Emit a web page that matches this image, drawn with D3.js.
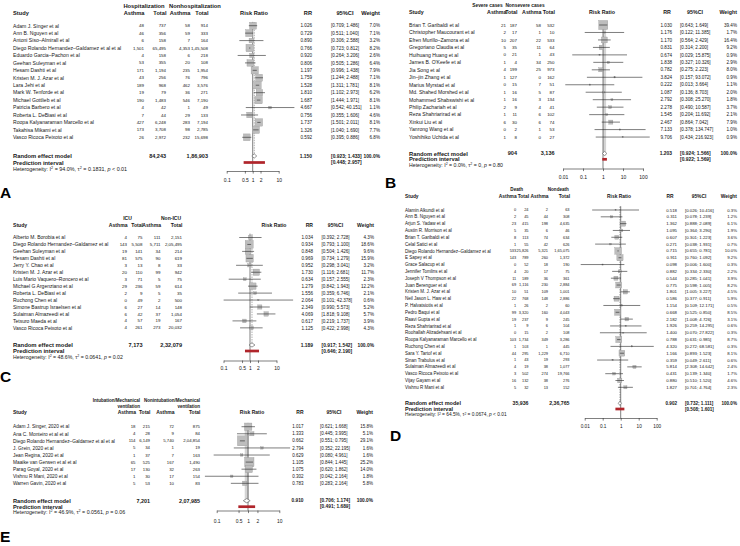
<!DOCTYPE html>
<html>
<head>
<meta charset="utf-8">
<script src="https://cdn.jsdelivr.net/npm/d3@7/dist/d3.min.js"></script>
<style>
html,body{margin:0;padding:0;background:#fff;}
svg{display:block;font-family:"Liberation Sans",Arial,Helvetica,sans-serif;}
</style>
</head>
<body>
<svg id="chart" width="740" height="546"></svg>
<script>
// ================= DATA =================
// ---- Panel A : Hospitalization ----
const studiesA = ["Adam J. Singer et al","Ann B. Nguyen et al","Antoni Siso–Almirall et al","Diego Rolando Hernandez–Galdamez et al et al","Eduardo Garcia–Pachon et al","Geehan Suleyman et al","Hesam Dashti  et al","Kristen M. J. Azar et al","Lara Jehi et al","Mark W. Tenforde et al","Michael Gottlieb  et al","Patricia Barbero  et al","Roberta L. DeBiasi  et al","Roopa Kalyanaraman Marcello et al","Takahisa Mikami et al","Vasco Ricoca Peixoto et al"];
const asthmaCaseA = ["48","46","6","1,501","4","53","171","43","189","19","190","4","7","427","173","26"];
const totalCaseA  = ["737","356","158","65,495","158","355","1,194","256","968","79","1,483","42","44","6,248","3,708","2,972"];
const asthmaCtrlA = ["58","59","7","4,353","6","20","235","76","462","36","546","1","29","283","98","232"];
const totalCtrlA  = ["914","333","164","1,45,508","218","108","1,954","796","3,576","271","7,190","49","133","7,194","2,785","15,698"];
const rrA    = [1.026,0.729,0.890,0.766,0.920,0.806,1.197,1.759,1.528,1.810,1.687,4.667,0.756,1.737,1.326,0.592];
const lowerA = [0.709,0.511,0.306,0.723,0.264,0.505,0.996,1.244,1.311,1.102,1.444,0.542,0.355,1.501,1.040,0.395];
const upperA = [1.486,1.040,2.588,0.812,3.206,1.286,1.438,2.488,1.781,2.973,1.971,40.151,1.606,2.011,1.690,0.886];
const weightA = [7.0,7.1,3.2,8.2,2.6,6.4,7.9,7.1,8.1,6.2,8.1,1.1,4.6,8.1,7.7,6.8];
const totalsA = ["84,243","1,86,903"];
const pooledA = [1.150,0.923,1.433];
const predictA = [0.448,2.957];
const hetA = ["94.0%","0.1831","<","0.01"];
const ticksA = [0.1,0.5,1,2,10];
const groupsA = [["Hospitalization"],["Nonhospitalization"]];

// ---- Panel B : Severe cases ----
const studiesB = ["Brian T. Garibaldi et al","Christopher Maucourant et al","Efren Murillo–Zamora et al","Gregoriano Claudia et al","Huihuang Huang  et al","James B. O'Keefe  et al","Jia Song et al","Jin–jin Zhang et al","Marius Myrstad et al","Md. Shahed Morshed et al","Mohammed Shabswishi et al","Philip Zachariah et al","Reza Shahriarirad et al","Xinkui Liu et al","Yanrong Wang et al","Yoshihiko Uchida  et al"];
const asthmaCaseB = ["21","2","10","5","0","1","4","1","0","1","1","2","1","6","0","1"];
const totalCaseB  = ["187","17","207","35","21","4","199","127","15","16","16","9","11","30","2","8"];
const asthmaCtrlB = ["58","1","22","11","1","34","25","0","7","5","3","4","6","6","1","0"];
const totalCtrlB  = ["532","10","533","64","43","250","973","162","51","87","134","41","102","74","53","27"];
const rrB    = [1.030,1.176,1.170,0.831,0.674,1.838,0.782,3.824,0.222,1.087,2.792,2.278,1.545,2.467,7.133,9.706];
const lowerB = [0.643,0.122,0.564,0.314,0.029,0.327,0.275,0.157,0.013,0.136,0.308,0.490,0.204,0.864,0.378,0.434];
const upperB = [1.649,11.385,2.429,2.200,15.875,10.326,2.223,93.072,3.664,8.703,25.270,10.587,11.692,7.042,134.747,216.923];
const weightB = [39.4,1.7,16.4,9.2,0.9,2.9,8.0,0.9,1.1,2.0,1.8,3.7,2.1,7.9,1.0,0.9];
const totalsB = ["904","3,136"];
const pooledB = [1.203,0.924,1.566];
const predictB = [0.922,1.569];
const hetB = ["0.0%","0","=","0.80"];
const ticksB = [0.01,0.1,1,10,100];
const groupsB = [["Severe cases"],["Nonsevere cases"]];

// ---- Panel C : ICU ----
const studiesC = ["Alberto M. Borobia et al","Diego Rolando Hernandez–Galdamez et al","Geehan Suleyman et al","Hesam Dashti  et al","Jerry Y. Chao et al","Kristen M. J. Azar et al","Luis Mario Vaquero–Roncero et al","Michael G Argenziano et al","Roberta L. DeBiasi  et al","Ruchong Chen et al","Simone Bastrup Israelsen et al","Sulaiman Almazeedi et al","Tetsuro Maeda  et al","Vasco Ricoca Peixoto et al"];
const asthmaCaseC = ["4","143","19","81","3","20","3","29","2","0","6","6","4","4"];
const totalCaseC  = ["75","5,508","141","575","13","110","71","236","9","49","27","42","57","261"];
const asthmaCtrlC = ["111","5,711","34","90","8","99","5","59","5","2","14","37","19","273"];
const totalCtrlC  = ["2,151","2,05,495","214","619","33","942","75","614","35","500","148","1,054","167","20,032"];
const rrC    = [1.034,0.934,0.848,0.969,0.952,1.730,0.634,1.279,1.556,2.064,2.349,4.069,0.617,1.125];
const lowerC = [0.392,0.793,0.504,0.734,0.298,1.116,0.157,0.842,0.359,0.101,0.990,1.818,0.219,0.422];
const upperC = [2.728,1.100,1.426,1.279,3.041,2.681,2.555,1.943,6.746,42.378,5.573,9.108,1.737,2.998];
const weightC = [4.3,18.6,9.6,15.9,3.2,11.7,2.3,12.2,2.1,0.6,5.2,5.7,3.9,4.3];
const totalsC = ["7,173","2,32,079"];
const pooledC = [1.189,0.917,1.542];
const predictC = [0.646,2.190];
const hetC = ["48.6%","0.0641","=","0.02"];
const ticksC = [0.1,0.5,1,2,10];
const groupsC = [["ICU"],["Non-ICU"]];

// ---- Panel D : Death ----
const studiesD = ["Alamin Alkundi et al","Ann B. Nguyen et al","Arjun S. Yadaw et al","Austin R. Morrison et al","Brian T. Garibaldi et al","Celal Satici et al","Diego Rolando Hernandez–Galdamez et al","E Sapey  et al","Grace Salacup et al","Jennifer Tomlins et al","Joseph V Thompson  et al","Juan Berenguer  et al","Kristen M. J. Azar et al","Neil Jason L. Haw et al","P. Halvatsiotis et al","Pedro Baqui  et al","Raavi Gupta et al","Reza Shahriarirad et al","Roohallah Alizadehsani et al","Roopa Kalyanaraman Marcello et al","Ruchong Chen et al","Sara Y. Tartof  et al","Sinan Trabulus et al","Sulaiman Almazeedi et al","Vasco Ricoca Peixoto et al","Vijay Gayam et al","Vishnu R Mani et al"];
const asthmaCaseD = ["0","2","23","5","8","1","533","143","0","4","11","69","10","22","1","99","19","1","0","103","1","44","1","4","3","16","5"];
const totalCaseD  = ["24","45","415","35","113","55","25,826","789","52","20","189","1,116","51","768","26","3,320","237","9","15","1,734","103","295","43","19","502","132","32"];
const asthmaCtrlD = ["2","44","198","6","74","42","5,321","260","18","17","36","230","109","148","2","160","9","6","2","349","1","1,229","19","38","274","38","13"];
const totalCtrlD  = ["63","308","4,635","46","634","626","1,65,075","1,372","190","75","361","2,884","1,001","2,886","60","4,043","245","104","108","3,286","445","6,710","293","1,077","19,766","276","152"];
const rrD    = [0.518,0.311,1.362,1.095,0.607,0.271,0.715,0.911,0.098,0.882,0.544,0.775,1.801,0.586,1.154,0.668,2.182,1.926,1.400,0.788,4.320,1.166,0.359,5.814,0.431,0.880,1.827];
const lowerD = [0.026,0.078,0.888,0.364,0.301,0.038,0.655,0.760,0.006,0.334,0.285,0.598,1.005,0.377,0.109,0.525,1.008,0.259,0.070,0.631,0.272,0.893,0.049,2.308,0.139,0.510,0.701];
const upperD = [10.416,1.239,2.089,3.290,1.223,1.931,0.781,1.092,1.600,2.330,1.041,1.005,3.227,0.911,12.171,0.850,4.726,14.295,27.822,0.985,68.581,1.523,2.611,14.642,1.340,1.520,4.764];
const weightD = [0.3,1.2,6.1,1.9,3.6,0.7,10.0,9.2,0.3,2.2,3.9,8.2,4.5,5.9,0.5,8.5,3.1,0.6,0.3,8.7,0.3,8.1,0.6,2.4,1.7,4.6,2.3];
const totalsD = ["35,936","2,36,765"];
const pooledD = [0.902,0.732,1.111];
const predictD = [0.508,1.601];
const hetD = ["64.5%","0.0674","<","0.01"];
const ticksD = [0.01,0.1,1,10,100];
const groupsD = [["Death"],["Nondeath"]];

// ---- Panel E : Intubation / mechanical ventilation ----
const studiesE = ["Adam J. Singer, 2020 et al","Ana C. Monteiro et al et al","Diego Rolando Hernandez–Galdamez et al et al","J. Grein, 2020 et al","Jean Regina, 2020 et al","Maaike van Gerwen et al et al","Parag Goyal, 2020 et al","Vishnu R Mani, 2020 et al","Warren Gavin, 2020 et al"];
const asthmaCaseE = ["18","4","114","5","1","65","17","1","5"];
const totalCaseE  = ["215","28","6,149","34","37","525","130","30","53"];
const asthmaCtrlE = ["72","9","5,740","1","7","167","32","17","10"];
const totalCtrlE  = ["875","84","2,04,854","19","163","1,490","263","154","83"];
const rrE    = [1.017,1.333,0.662,2.794,0.629,1.105,1.075,0.302,0.783];
const lowerE = [0.621,0.445,0.551,0.352,0.080,0.844,0.620,0.042,0.283];
const upperE = [1.668,3.995,0.795,22.195,4.961,1.445,1.862,2.164,2.164];
const weightE = [15.8,5.1,29.1,1.6,1.6,25.2,14.0,1.8,5.8];
const totalsE = ["7,201","2,07,985"];
const pooledE = [0.910,0.706,1.174];
const predictE = [0.491,1.689];
const hetE = ["46.9%","0.0561","=","0.06"];
const ticksE = [0.1,0.5,1,2,10];
const groupsE = [["Intubation/Mechanical","ventilation"],["Nonintubation/Mechanical","ventilation"]];

const colLabels = ["Asthma","Total","Asthma","Total"];

// ================= LAYOUT =================
const layout = {
  A:{letter:"A",lx:0,ly:192,xs:13,h:[6,13.3],row0:25.7,step:7.44,rand:156,pred:162.5,het:169,axis:171,tickLab:180,
     cols:[144,166,190,208],grp:[[144,"middle"],[195,"middle"]],x1:252.7,dec:26,rr:312,ciL:331,w:380,
     hRisk:254,hRR:312,hCI:345,k:2.6,fsN:5.1,fsNum:4.4,fsV:4.6,fsH:5.7,fsG:5.8,fsS:5.8,fsSV:4.9,fsHet:5.4,
     randW:0.8,randDash:"1.5,1",randCol:"#9a9a9a"},
  B:{letter:"B",lx:385,ly:182,xs:409,h:[5,12.3],row0:25,step:7.47,rand:153.5,pred:159.3,het:165.2,axis:168.5,tickLab:177,
     cols:[506,517,541,554.5],grp:[[487.5,"middle"],[525,"middle"]],x1:603,dec:20,rr:672,ciL:680,w:737,
     hRisk:602,hRR:667,hCI:695,k:1.45,fsN:5.1,fsNum:4.4,fsV:4.6,fsH:5.3,fsG:4.8,fsS:5.8,fsSV:4.9,fsHet:5.2,
     randW:3,randDash:null,randCol:"#d4d4d4"},
  C:{letter:"C",lx:0,ly:376,xs:13,h:[218,225.5],row0:237.5,step:6.95,rand:345,pred:351,het:357,axis:360.5,tickLab:368,
     cols:[127,142.5,160.5,182],grp:[[127.5,"middle"],[171,"middle"]],x1:250,dec:26.5,rr:313,ciL:321.5,w:374,
     hRisk:274,hRR:313,hCI:335.5,k:1.85,fsN:5.0,fsNum:4.4,fsV:4.6,fsH:5.1,fsG:5.0,fsS:5.9,fsSV:4.9,fsHet:5.2,
     randW:0.8,randDash:"1.5,1",randCol:"#9a9a9a"},
  D:{letter:"D",lx:390,ly:435,xs:405,h:[189.5,196.3],row0:210,step:6.82,rand:403.3,pred:409,het:414.7,axis:418,tickLab:426.5,
     cols:[516.2,528.5,548,569.5],grp:[[516.7,"middle"],[558.3,"middle"]],x1:620.7,dec:18,rr:677,ciL:685,w:737,
     hRisk:619,hRR:670,hCI:699,k:2.05,fsN:4.5,fsNum:3.9,fsV:4.3,fsH:4.9,fsG:4.6,fsS:5.5,fsSV:4.6,fsHet:4.8,
     randW:0.8,randDash:"1.5,1",randCol:"#9a9a9a"},
  E:{letter:"E",lx:0,ly:536,xs:13,h:[400,406,412],row0:426.7,step:7.08,rand:500.7,pred:506.7,het:512.3,axis:510.5,tickLab:521,
     cols:[135.5,150,174,200],grp:[[140,"end"],[200,"end"]],x1:248,dec:31.3,rr:303.5,ciL:320,w:373,
     hRisk:252,hRR:303.5,hCI:334,k:1.85,fsN:4.8,fsNum:4.3,fsV:4.5,fsH:5.0,fsG:4.5,fsS:5.7,fsSV:4.8,fsHet:5.3,
     randW:4,randDash:null,randCol:"#d4d4d4"}
};

const panels = {
  A:{studies:studiesA,a1:asthmaCaseA,t1:totalCaseA,a2:asthmaCtrlA,t2:totalCtrlA,rr:rrA,lo:lowerA,hi:upperA,w:weightA,totals:totalsA,pooled:pooledA,pred:predictA,het:hetA,ticks:ticksA,groups:groupsA},
  B:{studies:studiesB,a1:asthmaCaseB,t1:totalCaseB,a2:asthmaCtrlB,t2:totalCtrlB,rr:rrB,lo:lowerB,hi:upperB,w:weightB,totals:totalsB,pooled:pooledB,pred:predictB,het:hetB,ticks:ticksB,groups:groupsB},
  C:{studies:studiesC,a1:asthmaCaseC,t1:totalCaseC,a2:asthmaCtrlC,t2:totalCtrlC,rr:rrC,lo:lowerC,hi:upperC,w:weightC,totals:totalsC,pooled:pooledC,pred:predictC,het:hetC,ticks:ticksC,groups:groupsC},
  D:{studies:studiesD,a1:asthmaCaseD,t1:totalCaseD,a2:asthmaCtrlD,t2:totalCtrlD,rr:rrD,lo:lowerD,hi:upperD,w:weightD,totals:totalsD,pooled:pooledD,pred:predictD,het:hetD,ticks:ticksD,groups:groupsD},
  E:{studies:studiesE,a1:asthmaCaseE,t1:totalCaseE,a2:asthmaCtrlE,t2:totalCtrlE,rr:rrE,lo:lowerE,hi:upperE,w:weightE,totals:totalsE,pooled:pooledE,pred:predictE,het:hetE,ticks:ticksE,groups:groupsE}
};

// ================= DRAW =================
const svg = d3.select("#chart");
const INK = "#161616";
const f3 = d3.format(".3f"), f1 = d3.format(".1f");
const ci = (l, u) => "[" + f3(l) + "; " + f3(u) + "]";

function txt(g, x, yc, s, size, anchor, weight) {
  return g.append("text")
    .attr("x", x).attr("y", yc + size * 0.36)
    .attr("font-size", size)
    .attr("text-anchor", anchor || "start")
    .attr("font-weight", weight || "normal")
    .attr("fill", INK)
    .text(s);
}

function drawPanel(L, D) {
  const g = svg.append("g");
  const n = D.studies.length;
  const y = d3.scalePoint().domain(d3.range(n)).range([L.row0, L.row0 + (n - 1) * L.step]);
  const tMin = D.ticks[0], tMax = D.ticks[D.ticks.length - 1];
  const x = d3.scaleLog().domain([tMin, tMax])
    .range([L.x1 + Math.log10(tMin) * L.dec, L.x1 + Math.log10(tMax) * L.dec]);
  const hy = L.h[L.h.length - 1];

  // group headers
  D.groups.forEach((lines, gi) => {
    lines.forEach((s, li) => txt(g, L.grp[gi][0], L.h[li], s, L.fsG, L.grp[gi][1], "bold"));
  });
  // column headers
  txt(g, L.xs, hy, "Study", L.fsH, "start", "bold");
  colLabels.forEach((s, i) => txt(g, L.cols[i] + 0.5, hy, s, L.fsH, "end", "bold"));
  txt(g, L.hRisk, hy, "Risk Ratio", L.fsH, "middle", "bold");
  txt(g, L.hRR, hy, "RR", L.fsH, L.hRR === L.rr ? "end" : "middle", "bold");
  txt(g, L.hCI, hy, "95%CI", L.fsH, "middle", "bold");
  txt(g, L.w, hy, "Weight", L.fsH, "end", "bold");

  // random-effects line (behind)
  const rl = g.append("line")
    .attr("x1", x(D.pooled[0])).attr("x2", x(D.pooled[0]))
    .attr("y1", L.row0 - 3.5).attr("y2", L.rand + 2)
    .attr("stroke", L.randCol).attr("stroke-width", L.randW);
  if (L.randDash) rl.attr("stroke-dasharray", L.randDash);

  // reference line at 1
  g.append("line")
    .attr("x1", x(1)).attr("x2", x(1))
    .attr("y1", L.row0 - 3.8).attr("y2", L.axis)
    .attr("stroke", "#2a2a2a").attr("stroke-width", 0.6);

  // study rows
  D.studies.forEach((s, i) => {
    const yy = y(i);
    txt(g, L.xs, yy, s, L.fsN);
    txt(g, L.cols[0], yy, D.a1[i], L.fsNum, "end");
    txt(g, L.cols[1], yy, D.t1[i], L.fsNum, "end");
    txt(g, L.cols[2], yy, D.a2[i], L.fsNum, "end");
    txt(g, L.cols[3], yy, D.t2[i], L.fsNum, "end");
    const side = Math.max(1.2, L.k * Math.sqrt(D.w[i]));
    g.append("rect")
      .attr("x", x(D.rr[i]) - side / 2).attr("y", yy - side / 2)
      .attr("width", side).attr("height", side)
      .attr("fill", "#bdbdbd").attr("stroke", "#8f8f8f").attr("stroke-width", 0.3);
    g.append("line")
      .attr("x1", x(D.lo[i])).attr("x2", x(D.hi[i]))
      .attr("y1", yy).attr("y2", yy)
      .attr("stroke", "#262626").attr("stroke-width", 0.6);
    txt(g, L.rr, yy, f3(D.rr[i]), L.fsV, "end");
    txt(g, L.ciL, yy, ci(D.lo[i], D.hi[i]), L.fsV, "start");
    txt(g, L.w, yy, f1(D.w[i]) + "%", L.fsV, "end");
  });

  // random effects model row
  txt(g, L.xs, L.rand, "Random effect model", L.fsS, "start", "bold");
  txt(g, L.cols[1], L.rand, D.totals[0], L.fsS * 0.95, "end", "bold");
  txt(g, L.cols[3], L.rand, D.totals[1], L.fsS * 0.95, "end", "bold");
  const dh = 2.1;
  g.append("path")
    .attr("d", `M${x(D.pooled[1])},${L.rand} L${x(D.pooled[0])},${L.rand - dh} L${x(D.pooled[2])},${L.rand} L${x(D.pooled[0])},${L.rand + dh} Z`)
    .attr("fill", "#ffffff").attr("stroke", "#555").attr("stroke-width", 0.6);
  txt(g, L.rr, L.rand, f3(D.pooled[0]), L.fsSV, "end", "bold");
  txt(g, L.ciL, L.rand, ci(D.pooled[1], D.pooled[2]), L.fsSV, "start", "bold");
  txt(g, L.w, L.rand, "100.0%", L.fsSV, "end", "bold");

  // prediction interval row
  txt(g, L.xs, L.pred, "Prediction interval", L.fsS, "start", "bold");
  g.append("rect")
    .attr("x", x(D.pred[0])).attr("y", L.pred - 1.35)
    .attr("width", x(D.pred[1]) - x(D.pred[0])).attr("height", 2.7)
    .attr("fill", "#b0252b");
  txt(g, L.ciL, L.pred, ci(D.pred[0], D.pred[1]), L.fsSV, "start", "bold");

  // heterogeneity
  const ht = g.append("text").attr("x", L.xs).attr("y", L.het + L.fsHet * 0.36)
    .attr("font-size", L.fsHet).attr("fill", INK);
  const sup = L.fsHet * 0.38;
  ht.append("tspan").text("Heterogeneity: I");
  ht.append("tspan").attr("dy", -sup).attr("font-size", L.fsHet * 0.7).text("2");
  ht.append("tspan").attr("dy", sup).text(" = " + D.het[0] + ", \u03c4");
  ht.append("tspan").attr("dy", -sup).attr("font-size", L.fsHet * 0.7).text("2");
  ht.append("tspan").attr("dy", sup).text(" = " + D.het[1] + ", ");
  ht.append("tspan").attr("font-style", "italic").text("p");
  ht.append("tspan").text(" " + D.het[2] + " " + D.het[3]);

  // axis
  const tickLen = 2.6;
  const pad = L.tickLab - L.axis - tickLen - 0.35 * L.fsV;
  const ax = g.append("g").attr("transform", `translate(0,${L.axis})`)
    .call(d3.axisBottom(x).tickValues(D.ticks).tickFormat(d => String(d))
      .tickSize(tickLen).tickSizeOuter(0).tickPadding(pad));
  ax.select(".domain").attr("stroke", "#2a2a2a").attr("stroke-width", 0.6);
  ax.selectAll(".tick line").attr("stroke", "#2a2a2a").attr("stroke-width", 0.6);
  ax.selectAll(".tick text").attr("font-size", L.fsV + 0.4).attr("fill", INK)
    .attr("font-family", "Liberation Sans, Arial, sans-serif");

  // panel letter
  txt(g, L.lx, L.ly, L.letter, 15.5, "start", "bold").attr("fill", "#000");
}

["A","B","C","D","E"].forEach(k => drawPanel(layout[k], panels[k]));
</script>
</body>
</html>
